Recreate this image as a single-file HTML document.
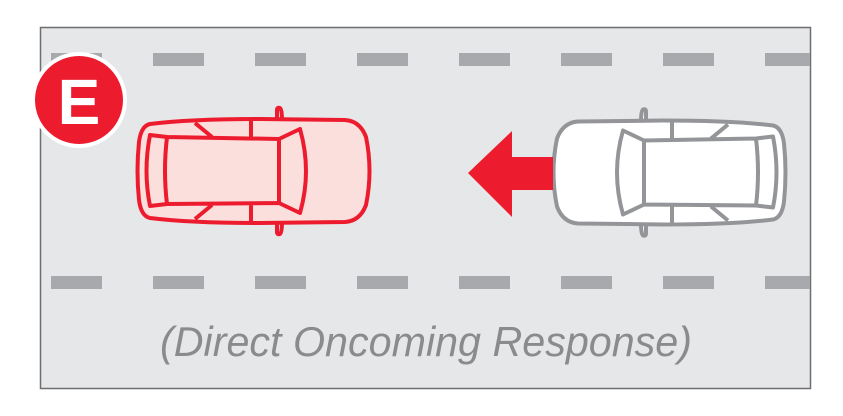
<!DOCTYPE html>
<html><head><meta charset="utf-8"><style>
html,body{margin:0;padding:0;background:#fff;}
svg{display:block;}
</style></head><body>
<svg width="843" height="416" viewBox="0 0 843 416" xmlns="http://www.w3.org/2000/svg">
<rect x="40.5" y="27.5" width="770" height="361" fill="#e6e7e8" stroke="#6d6e70" stroke-width="1.5"/>
<g fill="#a7a9ac">
<rect x="51" y="53" width="51" height="13"/><rect x="153" y="53" width="51" height="13"/><rect x="255" y="53" width="51" height="13"/><rect x="357" y="53" width="51" height="13"/><rect x="459" y="53" width="51" height="13"/><rect x="561" y="53" width="51" height="13"/><rect x="663" y="53" width="51" height="13"/><rect x="765" y="53" width="45" height="13"/>
<rect x="51" y="276" width="51" height="13"/><rect x="153" y="276" width="51" height="13"/><rect x="255" y="276" width="51" height="13"/><rect x="357" y="276" width="51" height="13"/><rect x="459" y="276" width="51" height="13"/><rect x="561" y="276" width="51" height="13"/><rect x="663" y="276" width="51" height="13"/><rect x="765" y="276" width="45" height="13"/>
</g>
<defs>
<g id="car">
<path d="M277,120 L277,110 Q277,107 280,108 Q282,110 282,120 Z M277,222 L277,232 Q277,235 280,234 Q282,232 282,222 Z"/>
<path d="M150,124 Q190,119 260,119 L345,120 Q360,121 366,137 Q373,171 366,205 Q360,221 345,222 L260,223 Q190,223 150,218 Q141,216 139,200 Q136,171 139,142 Q141,126 150,124 Z"/>
<path fill="none" d="M150,135 L167,137 L279,139 L279,203 L167,204 L150,206 Q143,171 150,135 Z M167,137 Q163,171 167,204 M279,139 L300,129 Q312,171 300,213 L279,203 M251,120 L251,137 M251,222 L251,205 M195,123 L212,137 M195,219 L212,205"/>
</g>
</defs>
<g stroke="#ec1c2e" stroke-width="4" stroke-linejoin="round">
<use href="#car" fill="#fbdfdc"/>
</g>
<g stroke="#939598" stroke-width="4" stroke-linejoin="round" transform="translate(923,1.5) scale(-1,1)">
<use href="#car" fill="#ffffff"/>
</g>
<path d="M468,173 L512,131 L512,157 L553,157 L553,190 L512,190 L512,217 Z" fill="#ec1c2e"/>
<circle cx="79" cy="100" r="48" fill="#fff"/>
<circle cx="79" cy="100" r="44" fill="#ec1c2e"/>
<text x="79" y="124" text-anchor="middle" font-family="Liberation Sans, sans-serif" font-weight="bold" font-size="64" fill="#fff">E</text>
<text x="160" y="356" textLength="532" lengthAdjust="spacingAndGlyphs" font-family="Liberation Sans, sans-serif" font-style="italic" font-size="42" fill="#8a8b8d">(Direct Oncoming Response)</text>
</svg>
</body></html>
